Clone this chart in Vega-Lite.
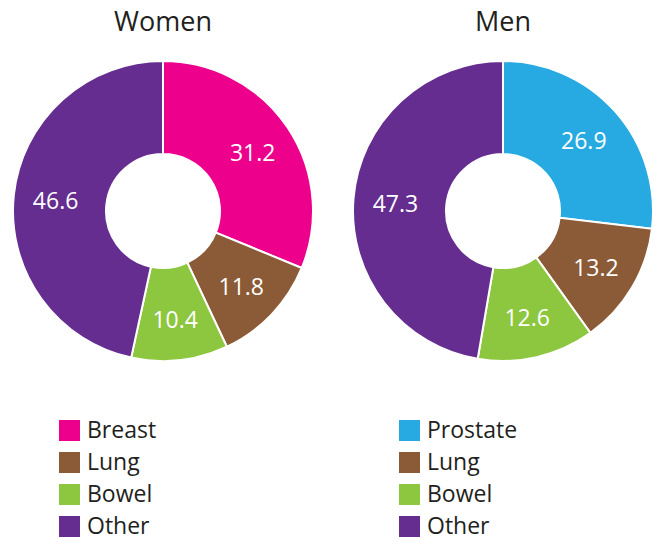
{
  "$schema": "https://vega.github.io/schema/vega-lite/v6.json",
  "background": "white",
  "padding": {"left": 9, "top": 9, "right": 4, "bottom": 0},
  "spacing": 40,
  "bounds": "flush",
  "config": {
    "view": {"stroke": null},
    "font": "Open Sans",
    "title": {"fontSize": 27, "fontWeight": "normal", "color": "#231F20", "offset": 20, "font": "Open Sans"},
    "legend": {
      "orient": "none",
      "legendX": 45,
      "legendY": 358,
      "direction": "vertical",
      "symbolType": "square",
      "symbolSize": 441,
      "symbolStrokeWidth": 0,
      "symbolOpacity": 1,
      "labelFontSize": 23,
      "labelFont": "Open Sans",
      "labelColor": "#231F20",
      "labelOffset": 6,
      "rowPadding": 8,
      "labelLimit": 300
    }
  },
  "resolve": {"scale": {"color": "independent"}, "legend": {"color": "independent"}},
  "hconcat": [
    {
      "title": "Women",
      "width": 300,
      "height": 300,
      "data": {"values": [
        {"cause": "Breast", "value": 31.2, "o": 1},
        {"cause": "Lung", "value": 11.8, "o": 2},
        {"cause": "Bowel", "value": 10.4, "o": 3},
        {"cause": "Other", "value": 46.6, "o": 4}
      ]},
      "encoding": {
        "theta": {"field": "value", "type": "quantitative", "stack": true},
        "order": {"field": "o", "type": "quantitative"}
      },
      "layer": [
        {
          "mark": {"type": "arc", "outerRadius": 150, "innerRadius": 57, "stroke": "white", "strokeWidth": 2},
          "encoding": {
            "color": {
              "field": "cause", "type": "nominal", "title": null,
              "scale": {"domain": ["Breast", "Lung", "Bowel", "Other"], "range": ["#EC008C", "#8B5A36", "#8DC63F", "#662D91"]}
            }
          }
        },
        {
          "mark": {"type": "text", "radius": 108, "dy": 3, "fontSize": 23, "color": "white", "font": "Open Sans"},
          "encoding": {"text": {"field": "value", "type": "quantitative", "format": ".1f"}}
        }
      ]
    },
    {
      "title": "Men",
      "width": 300,
      "height": 300,
      "data": {"values": [
        {"cause": "Prostate", "value": 26.9, "o": 1},
        {"cause": "Lung", "value": 13.2, "o": 2},
        {"cause": "Bowel", "value": 12.6, "o": 3},
        {"cause": "Other", "value": 47.3, "o": 4}
      ]},
      "encoding": {
        "theta": {"field": "value", "type": "quantitative", "stack": true},
        "order": {"field": "o", "type": "quantitative"}
      },
      "layer": [
        {
          "mark": {"type": "arc", "outerRadius": 150, "innerRadius": 57, "stroke": "white", "strokeWidth": 2},
          "encoding": {
            "color": {
              "field": "cause", "type": "nominal", "title": null,
              "scale": {"domain": ["Prostate", "Lung", "Bowel", "Other"], "range": ["#27AAE1", "#8B5A36", "#8DC63F", "#662D91"]}
            }
          }
        },
        {
          "mark": {"type": "text", "radius": 108, "dy": 3, "fontSize": 23, "color": "white", "font": "Open Sans"},
          "encoding": {"text": {"field": "value", "type": "quantitative", "format": ".1f"}}
        }
      ]
    }
  ]
}
